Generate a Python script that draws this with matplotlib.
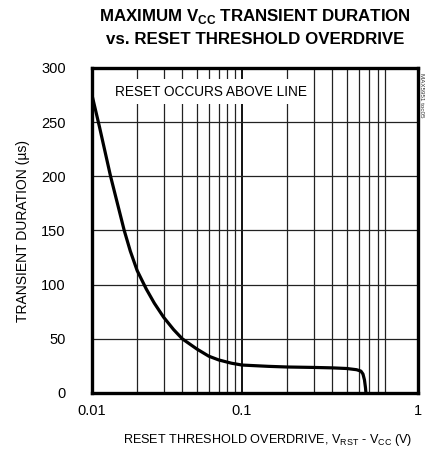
import numpy as np
import matplotlib
matplotlib.use("Agg")
import matplotlib.pyplot as plt
from matplotlib import font_manager

# curve
overdrive = [0.0100, 0.0112, 0.0133, 0.0164, 0.0180, 0.0200, 0.0230, 0.0260,
             0.0300, 0.0350, 0.0400, 0.0500, 0.0600, 0.0700, 0.0850, 0.1000,
             0.1500, 0.2000, 0.3000, 0.4000, 0.5000, 0.5800, 0.6200, 0.6400,
             0.6550, 0.6650, 0.6700]
duration = [275, 246, 200, 150, 131, 113, 96, 83,
            70, 58.5, 50, 40.6, 34, 30.5, 27.5, 25.8,
            24.6, 24, 23.6, 23.2, 22.6, 21.5, 20.2, 17.5,
            12, 5, 0]

y_ticks = [0, 50, 100, 150, 200, 250, 300]
x_tick_labels = ["0.01", "0.1", "1"]
# right frame edge is drawn past the 1.0 grid position in the original
x_left, x_right = 0.01, 10 ** 0.173

names = {f.name for f in font_manager.fontManager.ttflist}
main_font = "Liberation Sans Narrow" if "Liberation Sans Narrow" in names else "Liberation Sans"
plt.rcParams["font.family"] = [main_font, "DejaVu Sans"]
plt.rcParams["mathtext.fontset"] = "custom"
plt.rcParams["mathtext.rm"] = main_font
plt.rcParams["mathtext.bf"] = main_font + ":bold"

fig = plt.figure(figsize=(4.26, 4.55), dpi=100)
ax = fig.add_axes([92 / 426, 62 / 455, 326 / 426, 325 / 455])
ax.set_xscale("log")
ax.set_xlim(x_left, x_right)
ax.set_ylim(0, 300)

# grid
for dec in [0.01, 0.1]:
    for k in range(2, 10):
        ax.axvline(dec * k, color="#222222", lw=0.9, zorder=1)
ax.axvline(0.1, color="#111111", lw=1.4, zorder=1)
for yv in y_ticks[1:-1]:
    ax.axhline(yv, color="#222222", lw=0.9, zorder=1)

ax.plot(overdrive, duration, color="black", lw=2.3, solid_capstyle="butt",
        solid_joinstyle="round", zorder=3)

for s in ax.spines.values():
    s.set_linewidth(2.4)

ax.set_yticks(y_ticks)
ax.set_xticks([0.01, 0.1, x_right])
ax.set_xticklabels(x_tick_labels)
ax.xaxis.set_minor_locator(matplotlib.ticker.NullLocator())
ax.tick_params(axis="y", length=0, pad=19, labelsize=10.5)
ax.tick_params(axis="x", length=0, pad=8, labelsize=10.5)

ax.text(0.0621, 278, "RESET OCCURS ABOVE LINE", fontsize=9.8, ha="center", va="center",
        zorder=4, bbox=dict(facecolor="white", edgecolor="none", pad=4))

ax.set_ylabel("TRANSIENT DURATION (µs)", fontsize=10, labelpad=8)
ax.set_xlabel(r"RESET THRESHOLD OVERDRIVE, V$_{\mathregular{RST}}$ - V$_{\mathregular{CC}}$ (V)",
              fontsize=9.1)
ax.xaxis.set_label_coords(0.54, -0.12)

fig.text(255 / 426, 1 - 17 / 455, r"MAXIMUM V$_{\mathbf{CC}}$ TRANSIENT DURATION",
         fontsize=12.2, fontweight="bold", ha="center", va="center")
fig.text(255 / 426, 1 - 40 / 455, "vs. RESET THRESHOLD OVERDRIVE",
         fontsize=12.2, fontweight="bold", ha="center", va="center")
fig.text(422 / 426, 1 - 95 / 455, "MAX5951 toc05", fontsize=4.5, rotation=270,
         ha="center", va="center", color="#333333")

fig.savefig("out.png", dpi=100)
